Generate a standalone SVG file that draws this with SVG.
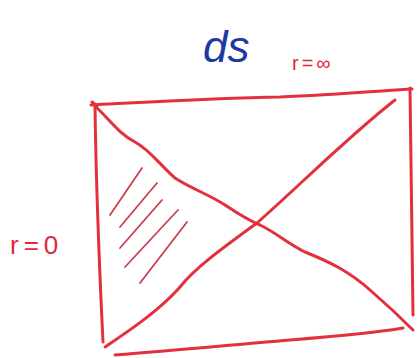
<svg xmlns="http://www.w3.org/2000/svg" width="418" height="358" viewBox="0 0 418 358">
<style>
.pen{fill:none;stroke:#e3313c;stroke-width:3;stroke-linecap:round;stroke-linejoin:round}
.hatch{fill:none;stroke:#c8404f;stroke-width:1.8;stroke-linecap:round}
.lbl{font-family:"Liberation Sans",sans-serif;fill:#e0283c}
</style>
<rect width="418" height="358" fill="#fff"/>
<g id="title"><text x="203" y="62" font-family="Liberation Sans, sans-serif" font-size="44" font-style="italic" fill="#1c3aa0">ds</text></g>
<g id="label-r-inf"><text class="lbl" x="292" y="70" font-size="20" letter-spacing="3">r=∞</text></g>
<g id="label-r-0"><text class="lbl" x="10" y="254" font-size="26" letter-spacing="5">r=0</text></g>
<g id="frame">
<path class="pen" d="M91,105 C150,102 220,98 280,97 C330,95 380,91 412,89"/>
<path class="pen" d="M95,106 C96,180 99,260 103,342"/>
<path class="pen" d="M410,88 C411,160 412,240 413,315"/>
<path class="pen" d="M115,355 C180,350 230,345 290,340 C340,336 380,332 403,328"/>
<path class="pen" d="M92,102 L97,106"/>
</g>
<g id="diagonals">
<path class="pen" d="M97,108 C110,120 118,133 135,142 C150,150 160,165 175,178 C190,188 210,195 225,205 C240,215 250,221 260,225 C275,232 290,245 305,252 C330,262 350,272 370,290 C385,303 400,317 413,330"/>
<path class="pen" d="M395,100 C350,135 300,185 257,223 C220,250 195,268 180,287 C160,310 130,330 105,347"/>
</g>
<g id="hatching">
<line class="hatch" x1="142" y1="168" x2="110" y2="215"/>
<line class="hatch" x1="157" y1="183" x2="120" y2="227"/>
<line class="hatch" x1="162" y1="200" x2="120" y2="248"/>
<line class="hatch" x1="178" y1="210" x2="125" y2="267"/>
<line class="hatch" x1="187" y1="222" x2="140" y2="283"/>
</g>
</svg>
